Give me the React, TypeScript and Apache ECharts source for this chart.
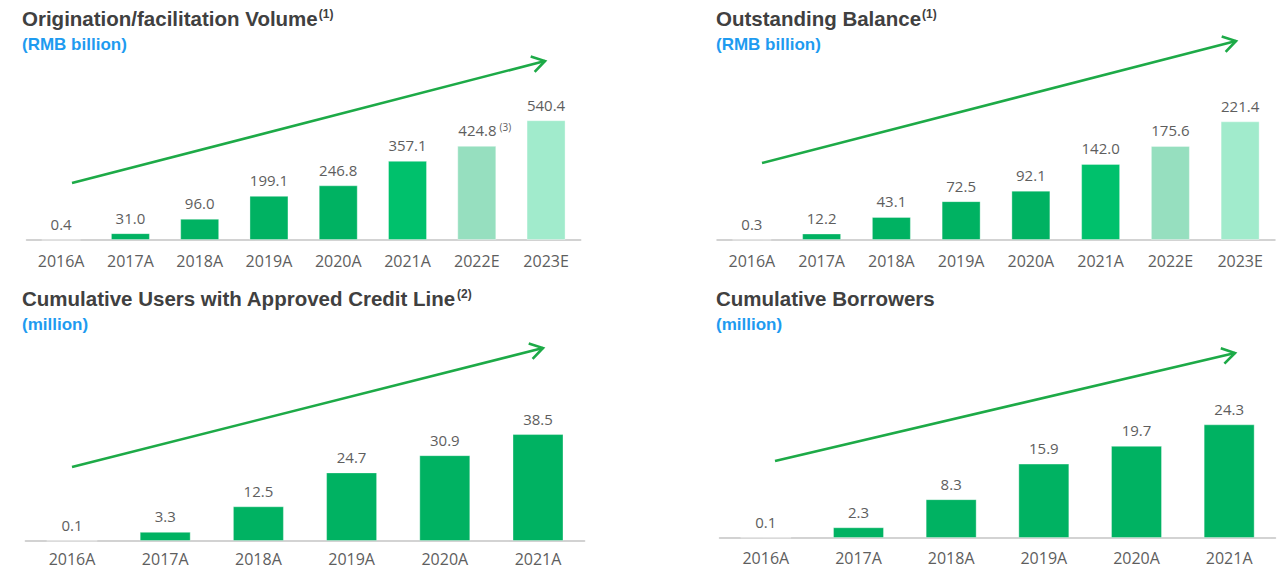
import React, { useEffect, useRef } from "react";
import * as echarts from "echarts";

const years8 = ["2016A", "2017A", "2018A", "2019A", "2020A", "2021A", "2022E", "2023E"];
const volume = [0.4, 31.0, 96.0, 199.1, 246.8, 357.1, 424.8, 540.4];
const balance = [0.3, 12.2, 43.1, 72.5, 92.1, 142.0, 175.6, 221.4];
const years6 = ["2016A", "2017A", "2018A", "2019A", "2020A", "2021A"];
const users = [0.1, 3.3, 12.5, 24.7, 30.9, 38.5];
const borrowers = [0.1, 2.3, 8.3, 15.9, 19.7, 24.3];

const titles = [
  { main: "Origination/facilitation Volume", sup: "(1)", sub: "(RMB billion)" },
  { main: "Outstanding Balance", sup: "(1)", sub: "(RMB billion)" },
  { main: "Cumulative Users with Approved Credit Line", sup: "(2)", sub: "(million)" },
  { main: "Cumulative Borrowers", sup: "", sub: "(million)" },
];

const DARK = "#00B262";
const BRIGHT = "#00C16C";
const EST1 = "#96DFBF";
const EST2 = "#A1EBCC";
const ARROW = "#1DAA47";
const LABEL = "#5E5E5E";
const NUMFONT = "'Open Sans', 'Noto Sans', sans-serif";
const TITLEFONT = "'Liberation Sans', Arial, sans-serif";

function colorFor8(i: number) {
  if (i === 6) return EST1;
  if (i === 7) return EST2;
  if (i === 5) return BRIGHT;
  return DARK;
}

function arrow(x1: number, y1: number, x2: number, y2: number) {
  const dx = x2 - x1;
  const dy = y2 - y1;
  const len = Math.sqrt(dx * dx + dy * dy);
  const ux = dx / len;
  const uy = dy / len;
  const a = (32 * Math.PI) / 180;
  const L = 15;
  const rot = (ang: number) => [
    x2 - L * (ux * Math.cos(ang) - uy * Math.sin(ang)),
    y2 - L * (ux * Math.sin(ang) + uy * Math.cos(ang)),
  ];
  const p1 = rot(a);
  const p2 = rot(-a);
  return [
    {
      type: "line",
      shape: { x1, y1, x2, y2 },
      style: { stroke: ARROW, lineWidth: 2.6 },
      z: 10,
    },
    {
      type: "polyline",
      shape: { points: [p1, [x2, y2], p2] },
      style: { stroke: ARROW, lineWidth: 2.6, fill: "none" },
      z: 10,
    },
  ];
}

export default function App() {
  const ref = useRef<HTMLDivElement>(null);
  useEffect(() => {
    if (!ref.current) return;
    const chart = echarts.init(ref.current, null, { renderer: "svg" });

    const grids = [
      { left: 26.5, right: 699.3, top: 107, bottom: 333 },
      { left: 717, right: 5, top: 106, bottom: 333 },
      { left: 25.4, right: 695.4, top: 416, bottom: 32 },
      { left: 719.5, right: 4.5, top: 407, bottom: 35 },
    ];
    const cats = [years8, years8, years6, years6];
    const maxes = [600, 250, 45, 28];
    const datas = [volume, balance, users, borrowers];
    const widths = [39, 39, 51, 51];
    const margins = [13, 13, 10, 12];

    const titlePos = [
      { left: 22, top: 8 },
      { left: 716, top: 8 },
      { left: 22, top: 288 },
      { left: 716, top: 288 },
    ];

    const option: any = {
      animation: false,
      backgroundColor: "#ffffff",
      title: titles.map((t, i) => ({
        left: titlePos[i].left,
        top: titlePos[i].top,
        padding: 0,
        itemGap: 7,
        text: t.sup ? `{t|${t.main}}{s|${t.sup}}` : `{t|${t.main}}`,
        textStyle: {
          rich: {
            t: { fontSize: 20.5, fontWeight: "bold", color: "#404040", fontFamily: TITLEFONT },
            s: {
              fontSize: 12,
              fontWeight: "bold",
              color: "#404040",
              fontFamily: TITLEFONT,
              verticalAlign: "top",
              padding: [0, 0, 6, 1],
            },
          },
        },
        subtext: t.sub,
        subtextStyle: {
          color: "#1E9BF0",
          fontWeight: "bold",
          fontSize: 17,
          fontFamily: TITLEFONT,
        },
      })),
      grid: grids,
      xAxis: cats.map((c, i) => ({
        type: "category",
        gridIndex: i,
        data: c,
        axisLine: { lineStyle: { color: "#C4C4C4", width: 1.5 } },
        axisTick: { show: false },
        axisLabel: { color: LABEL, fontSize: 16, fontFamily: NUMFONT, margin: margins[i] },
      })),
      yAxis: maxes.map((m, i) => ({
        type: "value",
        gridIndex: i,
        min: 0,
        max: m,
        show: false,
        splitLine: { show: false },
      })),
      series: datas.map((d, i) => ({
        type: "bar",
        xAxisIndex: i,
        yAxisIndex: i,
        barWidth: widths[i],
        data: d.map((v, j) => ({
          value: v,
          itemStyle: {
            color: i < 2 ? colorFor8(j) : DARK,
            borderColor: "rgba(255,255,255,0.35)",
            borderWidth: 1,
          },
          label:
            i === 0 && j === 6
              ? {
                  formatter: `{v|${v.toFixed(1)}}{s|(3)}`,
                  offset: [8, 0],
                }
              : undefined,
        })),
        label: {
          show: true,
          position: "top",
          distance: 8,
          color: LABEL,
          fontSize: 15,
          fontFamily: NUMFONT,
          formatter: (p: any) => Number(p.value).toFixed(1),
          rich: {
            v: { color: LABEL, fontSize: 15, fontFamily: NUMFONT },
            s: { color: LABEL, fontSize: 10, fontFamily: NUMFONT, verticalAlign: "top", padding: [0, 0, 6, 3] },
          },
        },
      })),
      graphic: [
        ...arrow(72, 183, 545, 61),
        ...arrow(762, 163, 1236, 41),
        ...arrow(72, 467, 543, 348),
        ...arrow(775, 461, 1235, 353),
      ],
    };
    chart.setOption(option);
    return () => chart.dispose();
  }, []);
  return (
    <div
      ref={ref}
      style={{ position: "absolute", left: 0, top: 0, width: 1280, height: 573, background: "#fff" }}
    />
  );
}
